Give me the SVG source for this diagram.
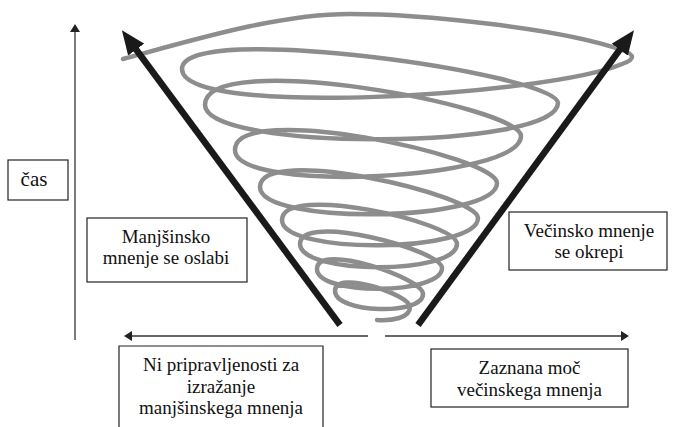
<svg xmlns="http://www.w3.org/2000/svg" width="673" height="427" viewBox="0 0 673 427">
<defs>
<style>
.box{fill:#fff;stroke:#222;stroke-width:1.2}
.axis{stroke:#333;stroke-width:1.3;fill:none}
.big{stroke:#1a1a1a;stroke-width:6.5;fill:none}
.spiral{stroke:#8d8d8d;stroke-width:4.5;fill:none;stroke-linecap:round;stroke-linejoin:round}
</style>
<marker id="bighead" viewBox="0 0 24 20" refX="2" refY="10" markerWidth="24" markerHeight="20" markerUnits="userSpaceOnUse" orient="auto">
<path d="M0,0 L24,10 L0,20 z" fill="#1a1a1a"/>
</marker>
<marker id="smallhead" viewBox="0 0 8 10" refX="1" refY="5" markerWidth="8" markerHeight="10" markerUnits="userSpaceOnUse" orient="auto">
<path d="M0,0 L8,5 L0,10 z" fill="#222"/>
</marker>
</defs>
<rect width="673" height="427" fill="#fff"/>

<g id="spiral">
<path class="spiral" d="M123,59 C200,38 280,14 350,14 C420,14 560,28 622,50 Q642,57 622,64
C550,95 182,119 182,69
C182,20 558,74 558,103
C558,150 205,152 205,105
C205,48 521,106 521,136
C521,180 235,194 235,150
C235,100 497,156 497,183
C497,222 260,226 260,187
C260,144 478,195 478,218
C478,253 282,255 282,220
C282,183 457,222 457,244
C457,275 300,275 300,244
C300,212 442,250 442,268
C442,295 317,296 317,269
C317,242 423,278 423,294
C423,316 335,313 335,291
C335,269 410,295 410,307
C410,318 392,321 377,320"/>
</g>

<g id="connectors">
<line class="axis" x1="75" y1="340" x2="75" y2="31" marker-end="url(#smallhead)"/>
<line class="axis" x1="368" y1="336" x2="131" y2="336" marker-end="url(#smallhead)"/>
<line class="axis" x1="385" y1="336" x2="622" y2="336" marker-end="url(#smallhead)"/>
<line class="big" x1="340" y1="325" x2="135" y2="48" marker-end="url(#bighead)"/>
<line class="big" x1="418" y1="325" x2="621" y2="48" marker-end="url(#bighead)"/>
</g>

<g font-family="Liberation Serif, DejaVu Serif, serif" font-size="19" fill="#111" text-anchor="middle">
<g id="node-cas">
<rect class="box" x="8" y="160" width="60" height="40"/>
<text x="34" y="186" font-size="21">čas</text>
</g>

<g id="node-manjsinsko">
<rect class="box" x="87" y="218" width="160" height="64"/>
<text x="166" y="243">Manjšinsko</text>
<text x="166" y="264">mnenje se oslabi</text>
</g>

<g id="node-vecinsko">
<rect class="box" x="509" y="212" width="158" height="58"/>
<text x="589" y="237">Večinsko mnenje</text>
<text x="589" y="258">se okrepi</text>
</g>

<g id="node-ni-pripravljenosti">
<path class="box" d="M119,427 V346 H323 V427"/>
<text x="221" y="371">Ni pripravljenosti za</text>
<text x="221" y="393">izražanje</text>
<text x="221" y="414">manjšinskega mnenja</text>
</g>

<g id="node-zaznana">
<rect class="box" x="431" y="349" width="197" height="58"/>
<text x="529.5" y="374">Zaznana moč</text>
<text x="529.5" y="396">večinskega mnenja</text>
</g>
</g>
</svg>
